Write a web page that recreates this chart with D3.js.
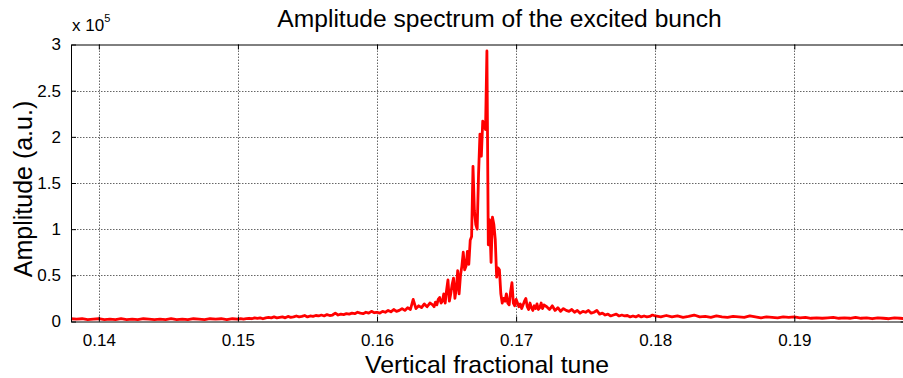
<!DOCTYPE html>
<html><head><meta charset="utf-8">
<script src="https://cdn.jsdelivr.net/npm/d3@7"></script>
<style>html,body{margin:0;padding:0;background:#fff;}svg{display:block;}</style>
</head><body>
<svg id="chart" width="903" height="378"></svg>
<script>
// ---- data (amplitude in units of 1e5) ----
const baselineLeft = [[0.1380,0.03],[0.1384,0.025],[0.1388,0.03],[0.1392,0.02],[0.1396,0.025],[0.1400,0.03],[0.1404,0.02],[0.1408,0.025],[0.1412,0.02],[0.1416,0.03],[0.1420,0.02],[0.1424,0.025],[0.1428,0.02],[0.1432,0.03],[0.1436,0.025],[0.1440,0.02],[0.1444,0.025],[0.1448,0.02],[0.1452,0.03],[0.1456,0.02],[0.1460,0.025],[0.1464,0.02],[0.1468,0.03],[0.1472,0.025],[0.1476,0.02],[0.1480,0.03],[0.1484,0.025],[0.1488,0.03],[0.1492,0.02],[0.1496,0.03],[0.1500,0.025]];
const shoulderLeft = [[0.1502,0.03],[0.1504,0.025],[0.1506,0.03],[0.1508,0.035],[0.1510,0.03],[0.1512,0.04],[0.1514,0.035],[0.1516,0.04],[0.1518,0.03],[0.1520,0.04],[0.1522,0.045],[0.1524,0.04],[0.1526,0.05],[0.1528,0.04],[0.1530,0.045],[0.1532,0.05],[0.1534,0.04],[0.1536,0.055],[0.1538,0.045],[0.1540,0.05],[0.1542,0.06],[0.1544,0.05],[0.1546,0.055],[0.1548,0.065],[0.1550,0.05],[0.1552,0.06],[0.1554,0.055],[0.1556,0.065],[0.1558,0.06],[0.1560,0.07],[0.1562,0.06],[0.1564,0.075],[0.1566,0.065],[0.1568,0.07],[0.1570,0.09],[0.1572,0.07],[0.1574,0.08],[0.1576,0.075],[0.1578,0.085],[0.1580,0.08],[0.1582,0.09],[0.1584,0.085],[0.1586,0.1],[0.1588,0.09],[0.1590,0.085],[0.1592,0.1],[0.1594,0.09],[0.1596,0.11],[0.1598,0.095],[0.1600,0.1],[0.1602,0.09],[0.1604,0.11],[0.1606,0.1],[0.1608,0.12],[0.1610,0.105],[0.1612,0.13],[0.1614,0.11],[0.1616,0.12],[0.1618,0.14],[0.1620,0.12],[0.1622,0.15],[0.1624,0.13],[0.1626,0.24],[0.1628,0.14],[0.1630,0.17],[0.1632,0.15],[0.1634,0.19],[0.1636,0.16],[0.1638,0.2]];
const peakRegion = [[0.1640,0.18],[0.1641,0.16],[0.1642,0.21],[0.1643,0.18],[0.1644,0.24],[0.1645,0.26],[0.1646,0.20],[0.1647,0.22],[0.1648,0.30],[0.1649,0.20],[0.1650,0.34],[0.1651,0.45],[0.1652,0.22],[0.1653,0.30],[0.1654,0.40],[0.1655,0.47],[0.1656,0.25],[0.1657,0.36],[0.1658,0.55],[0.1659,0.30],[0.1660,0.50],[0.1661,0.60],[0.1662,0.75],[0.1663,0.56],[0.1664,0.60],[0.1665,0.76],[0.1666,0.62],[0.1667,0.88],[0.1668,0.92],[0.1669,1.68],[0.1670,1.20],[0.1671,1.05],[0.1672,1.00],[0.1673,1.60],[0.1674,2.03],[0.1675,1.79],[0.1676,2.17],[0.1677,2.12],[0.1678,2.08],[0.1679,2.93],[0.1680,0.83],[0.1681,1.10],[0.1682,0.64],[0.1683,1.13],[0.1684,1.05],[0.1685,0.89],[0.1686,0.48],[0.1687,0.58],[0.1688,0.56],[0.1689,0.30],[0.1690,0.20],[0.1691,0.25],[0.1692,0.22],[0.1693,0.30],[0.1694,0.20],[0.1695,0.18],[0.1696,0.32],[0.1697,0.42],[0.1698,0.20],[0.1699,0.17],[0.1700,0.24],[0.1701,0.20],[0.1702,0.16],[0.1703,0.19],[0.1704,0.14],[0.1705,0.18],[0.1706,0.22],[0.1707,0.25],[0.1708,0.16],[0.1709,0.13],[0.1710,0.20],[0.1711,0.15],[0.1712,0.12],[0.1713,0.17],[0.1714,0.14],[0.1715,0.19],[0.1716,0.13],[0.1717,0.15],[0.1718,0.20],[0.1719,0.14],[0.1720,0.18]];
const shoulderRight = [[0.1722,0.16],[0.1724,0.13],[0.1726,0.17],[0.1728,0.12],[0.1730,0.15],[0.1732,0.11],[0.1734,0.14],[0.1736,0.12],[0.1738,0.11],[0.1740,0.13],[0.1742,0.1],[0.1744,0.12],[0.1746,0.09],[0.1748,0.11],[0.1750,0.1],[0.1752,0.12],[0.1754,0.09],[0.1756,0.1],[0.1758,0.12],[0.1760,0.08],[0.1762,0.09],[0.1764,0.07],[0.1766,0.08],[0.1768,0.06],[0.1770,0.07],[0.1772,0.08],[0.1774,0.06],[0.1776,0.07],[0.1778,0.06],[0.1780,0.065],[0.1782,0.05],[0.1784,0.06],[0.1786,0.05],[0.1788,0.065],[0.1790,0.05],[0.1792,0.06],[0.1794,0.05],[0.1796,0.055],[0.1798,0.07],[0.1800,0.06]];
const tailRight = [[0.1804,0.05],[0.1808,0.065],[0.1812,0.05],[0.1816,0.06],[0.1820,0.045],[0.1824,0.055],[0.1828,0.07],[0.1832,0.05],[0.1836,0.055],[0.1840,0.045],[0.1844,0.06],[0.1848,0.05],[0.1852,0.045],[0.1856,0.055],[0.1860,0.05],[0.1864,0.045],[0.1868,0.06],[0.1872,0.05],[0.1876,0.04],[0.1880,0.05],[0.1884,0.045],[0.1888,0.04],[0.1892,0.05],[0.1896,0.045],[0.1900,0.05],[0.1904,0.04],[0.1908,0.045],[0.1912,0.035],[0.1916,0.04],[0.1920,0.035],[0.1924,0.04],[0.1928,0.045],[0.1932,0.035],[0.1936,0.04],[0.1940,0.035],[0.1944,0.045],[0.1948,0.035],[0.1952,0.04],[0.1956,0.03],[0.1960,0.04],[0.1964,0.035],[0.1968,0.03],[0.1972,0.04],[0.1976,0.035],[0.1980,0.03]];

const xTicks = [0.14, 0.15, 0.16, 0.17, 0.18, 0.19];
const xTickLabels = ["0.14", "0.15", "0.16", "0.17", "0.18", "0.19"];
const yTicks = [0, 0.5, 1, 1.5, 2, 2.5, 3];
const yTickLabels = ["0", "0.5", "1", "1.5", "2", "2.5", "3"];
const titleText = "Amplitude spectrum of the excited bunch";
const xLabelText = "Vertical fractional tune";
const yLabelText = "Amplitude (a.u.)";
const xDomain = [0.138, 0.198];
const yDomain = [0, 3];

// ---- layout ----
const L = 71, R = 905.6, T = 44.5, B = 321.5;
const FONT = "'Liberation Sans', Arial, sans-serif";

const spectrum = [].concat(baselineLeft, shoulderLeft, peakRegion, shoulderRight, tailRight);
const svg = d3.select("#chart");
const x = d3.scaleLinear().domain(xDomain).range([L, R]);
const y = d3.scaleLinear().domain(yDomain).range([B, T]);

// grid
const grid = svg.append("g").attr("fill", "none").attr("stroke", "#666").attr("stroke-width", 1).attr("stroke-dasharray", "1.5,1.5");
xTicks.forEach(t => grid.append("line").attr("x1", Math.round(x(t)) + 0.5).attr("x2", Math.round(x(t)) + 0.5).attr("y1", T).attr("y2", B));
yTicks.slice(1, -1).forEach(t => grid.append("line").attr("x1", L).attr("x2", R).attr("y1", Math.round(y(t)) + 0.5).attr("y2", Math.round(y(t)) + 0.5));

// data line
const line = d3.line().x(d => x(d[0])).y(d => y(d[1]));
svg.append("path").datum(spectrum).attr("d", line)
  .attr("fill", "none").attr("stroke", "#ff0000").attr("stroke-width", 2.8).attr("stroke-linejoin", "round");

// axes (ticks inward)
const xAxisB = d3.axisBottom(x).tickValues(xTicks).tickFormat((d, i) => xTickLabels[i]).tickSizeInner(-5).tickSizeOuter(0).tickPadding(12);
const xAxisT = d3.axisTop(x).tickValues(xTicks).tickFormat("").tickSizeInner(-5).tickSizeOuter(0);
const yAxisL = d3.axisLeft(y).tickValues(yTicks).tickFormat((d, i) => yTickLabels[i]).tickSizeInner(-5).tickSizeOuter(0).tickPadding(10);
const yAxisR = d3.axisRight(y).tickValues(yTicks).tickFormat("").tickSizeInner(-5).tickSizeOuter(0);

function style(g) {
  g.selectAll("path.domain").attr("stroke", "#000").attr("stroke-width", 1);
  g.selectAll(".tick line").attr("stroke", "#000").attr("stroke-width", 1);
  g.selectAll("text").attr("fill", "#000").style("font-family", FONT).style("font-size", "17px");
}
svg.append("g").attr("transform", `translate(0,${B})`).call(xAxisB).call(style);
svg.append("g").attr("transform", `translate(0,${T})`).call(xAxisT).call(style);
svg.append("g").attr("transform", `translate(${L},0)`).call(yAxisL).call(style);
svg.append("g").attr("transform", `translate(${R},0)`).call(yAxisR).call(style);

// exponent label
const ex = svg.append("text").attr("x", 72).attr("y", 31).style("font-family", FONT).style("font-size", "17px").attr("fill", "#000");
ex.append("tspan").text("x 10");
ex.append("tspan").attr("dy", -9).style("font-size", "11px").text("5");

// title and labels
svg.append("text").attr("x", 499.5).attr("y", 27).attr("text-anchor", "middle")
  .style("font-family", FONT).style("font-size", "24.6px").attr("fill", "#000").text(titleText);
svg.append("text").attr("x", 487).attr("y", 372.5).attr("text-anchor", "middle")
  .style("font-family", FONT).style("font-size", "24.8px").attr("fill", "#000").text(xLabelText);
svg.append("text").attr("transform", "translate(32,189) rotate(-90)").attr("text-anchor", "middle")
  .style("font-family", FONT).style("font-size", "25px").attr("fill", "#000").text(yLabelText);
</script>
</body></html>
